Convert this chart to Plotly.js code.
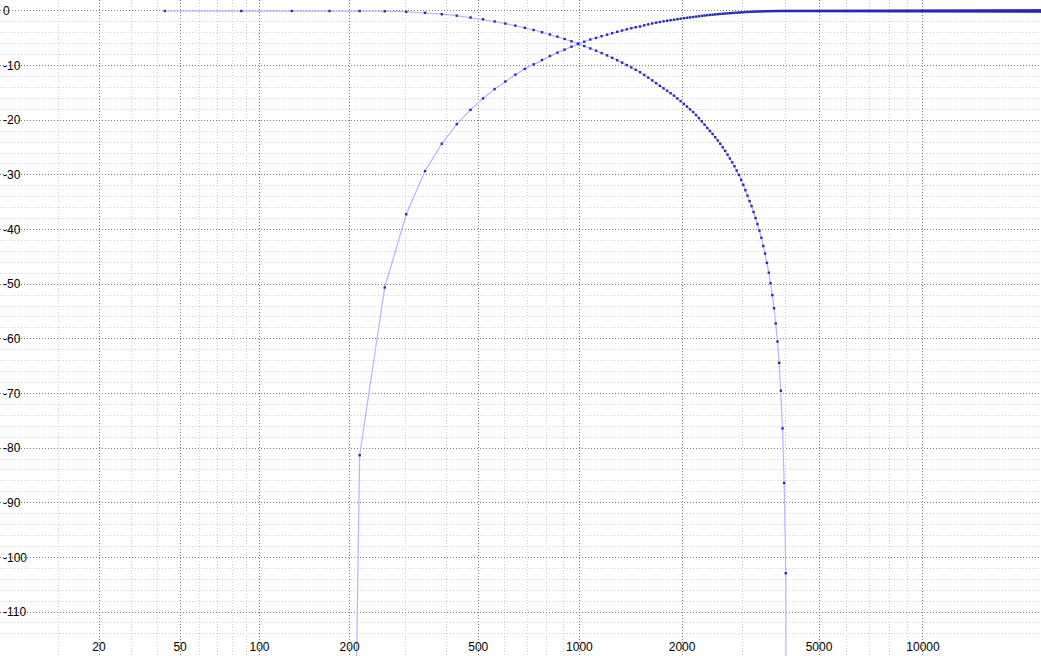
<!DOCTYPE html>
<html><head><meta charset="utf-8">
<script src="https://cdn.plot.ly/plotly-3.0.1.min.js"></script>
<style>html,body{margin:0;padding:0;background:#fff;overflow:hidden}#chart{width:1041px;height:656px}</style>
</head><body><div id="chart"></div>
<script>
// FFT bin grid (bin k = k * SAMPLE_RATE / FFT_SIZE, k = 1..N)
const SAMPLE_RATE = 44100;
const FFT_SIZE = 1024;
// frequency axis is warped as log(f + FREQ_OFFSET) so that 0 Hz is on the chart
const FREQ_OFFSET = 22;

// low-pass magnitude (dB), bins 1..94
const lowpassDb = [
0,0,0,0,-0.01,-0.05,-0.14,-0.33,-0.59,-0.86,
-1.2,-1.52,-1.92,-2.3,-2.68,-3.08,-3.48,-3.9,-4.3,-4.7,
-5.12,-5.55,-5.98,-6.42,-6.85,-7.27,-7.7,-8.13,-8.57,-9.0,
-9.45,-9.9,-10.33,-10.77,-11.2,-11.7,-12.2,-12.7,-13.2,-13.7,
-14.15,-14.6,-15.05,-15.5,-16.0,-16.5,-17.0,-17.5,-18.0,-18.5,
-19.05,-19.6,-20.2,-20.8,-21.4,-21.95,-22.5,-23.1,-23.7,-24.3,
-24.95,-25.6,-26.3,-27.0,-27.7,-28.4,-29.2,-30.0,-30.9,-31.8,
-32.8,-33.8,-34.8,-35.7,-36.8,-37.9,-39.0,-40.2,-41.5,-43.0,
-44.4,-46.1,-47.9,-49.8,-52.0,-54.4,-57.2,-60.5,-64.4,-69.5,
-76.4,-86.4,-102.9,-300
];

// high-pass magnitude (dB), bins 1..512
const highpassDb = [
-450,-450,-450,-450,-81.3,-50.6,-37.2,-29.3,-24.3,-20.7,
-18.1,-16.0,-14.3,-12.9,-11.65,-10.6,-9.76,-8.97,-8.24,-7.63,
-7.08,-6.53,-6.04,-5.62,-5.22,-4.93,-4.61,-4.33,-4.05,-3.8,
-3.57,-3.35,-3.15,-2.97,-2.85,-2.62,-2.45,-2.29,-2.14,-2.02,
-1.89,-1.79,-1.69,-1.6,-1.49,-1.41,-1.32,-1.24,-1.17,-1.1,
-1.03,-0.96,-0.89,-0.83,-0.77,-0.72,-0.68,-0.63,-0.59,-0.55,
-0.5,-0.47,-0.43,-0.4,-0.37,-0.34,-0.31,-0.28,-0.25,-0.23,
-0.2,-0.18,-0.16,-0.14,-0.13,-0.11,-0.1,-0.09,-0.07,-0.06,
-0.05,-0.04,-0.035,-0.03,-0.02,-0.02,-0.01,-0.01,0,0,
0,0,0,0,0,0,0,0,0,0,0,0,0,0,0,0,0,0,0,0,
0,0,0,0,0,0,0,0,0,0,0,0,0,0,0,0,0,0,0,0,
0,0,0,0,0,0,0,0,0,0,0,0,0,0,0,0,0,0,0,0,
0,0,0,0,0,0,0,0,0,0,0,0,0,0,0,0,0,0,0,0,
0,0,0,0,0,0,0,0,0,0,0,0,0,0,0,0,0,0,0,0,
0,0,0,0,0,0,0,0,0,0,0,0,0,0,0,0,0,0,0,0,
0,0,0,0,0,0,0,0,0,0,0,0,0,0,0,0,0,0,0,0,
0,0,0,0,0,0,0,0,0,0,0,0,0,0,0,0,0,0,0,0,
0,0,0,0,0,0,0,0,0,0,0,0,0,0,0,0,0,0,0,0,
0,0,0,0,0,0,0,0,0,0,0,0,0,0,0,0,0,0,0,0,
0,0,0,0,0,0,0,0,0,0,0,0,0,0,0,0,0,0,0,0,
0,0,0,0,0,0,0,0,0,0,0,0,0,0,0,0,0,0,0,0,
0,0,0,0,0,0,0,0,0,0,0,0,0,0,0,0,0,0,0,0,
0,0,0,0,0,0,0,0,0,0,0,0,0,0,0,0,0,0,0,0,
0,0,0,0,0,0,0,0,0,0,0,0,0,0,0,0,0,0,0,0,
0,0,0,0,0,0,0,0,0,0,0,0,0,0,0,0,0,0,0,0,
0,0,0,0,0,0,0,0,0,0,0,0,0,0,0,0,0,0,0,0,
0,0,0,0,0,0,0,0,0,0,0,0,0,0,0,0,0,0,0,0,
0,0,0,0,0,0,0,0,0,0,0,0,0,0,0,0,0,0,0,0,
0,0,0,0,0,0,0,0,0,0,0,0,0,0,0,0,0,0,0,0,
0,0,0,0,0,0,0,0,0,0,0,0,0,0,0,0,0,0,0,0,
0,0
];

const xTickHz = [20, 50, 100, 200, 500, 1000, 2000, 5000, 10000];
const xTickLabels = ['20', '50', '100', '200', '500', '1000', '2000', '5000', '10000'];
const xMinorHz = [10, 30, 40, 60, 70, 80, 90, 300, 400, 600, 700, 800, 900, 3000, 4000, 6000, 7000, 8000, 9000];
const yTickDb = [0, -10, -20, -30, -40, -50, -60, -70, -80, -90, -100, -110];
const yTickLabels = ['0', '-10', '-20', '-30', '-40', '-50', '-60', '-70', '-80', '-90', '-100', '-110'];

const binHz = k => k * SAMPLE_RATE / FFT_SIZE;
const warp = f => f + FREQ_OFFSET;

function makeTrace(db) {
  return {
    x: db.map((_, i) => warp(binHz(i + 1))),
    y: db,
    type: 'scatter',
    mode: 'lines+markers',
    line: {color: 'rgb(180,180,255)', width: 1.2},
    marker: {symbol: 'square', size: 2.4, color: '#2828b4', line: {width: 0}},
    hoverinfo: 'skip',
    showlegend: false
  };
}

const font = {family: 'Liberation Sans, Arial, sans-serif', size: 12, color: '#000'};

const layout = {
  width: 1041, height: 656,
  margin: {l: 0, r: 0, t: 0, b: 0, pad: 0},
  paper_bgcolor: '#fff', plot_bgcolor: '#fff',
  showlegend: false,
  xaxis: {
    type: 'log',
    range: [1.33758, 4.34147],
    tickmode: 'array',
    tickvals: xTickHz.map(warp),
    ticktext: xTickLabels,
    ticklabelposition: 'inside',
    ticks: '',
    tickfont: font,
    showgrid: true, gridcolor: '#7c7c7c', gridwidth: 1, griddash: '1px,2px',
    minor: {tickmode: 'array', tickvals: xMinorHz.map(warp), showgrid: true, gridcolor: '#d0d0d0', gridwidth: 1, griddash: '1px,2px', ticks: ''},
    zeroline: false, showline: false, fixedrange: true
  },
  yaxis: {
    range: [-118.05, 2.01],
    tickmode: 'array',
    tickvals: yTickDb,
    ticktext: yTickLabels,
    ticklabelposition: 'inside',
    ticks: '',
    tickfont: font,
    showgrid: true, gridcolor: '#7c7c7c', gridwidth: 1, griddash: '1px,2px',
    minor: {dtick: 2, showgrid: true, gridcolor: '#d0d0d0', gridwidth: 1, griddash: '1px,2px', ticks: ''},
    zeroline: false, showline: false, fixedrange: true
  }
};

Plotly.newPlot('chart', [makeTrace(lowpassDb), makeTrace(highpassDb)], layout, {staticPlot: true, displayModeBar: false});
</script>
</body></html>
